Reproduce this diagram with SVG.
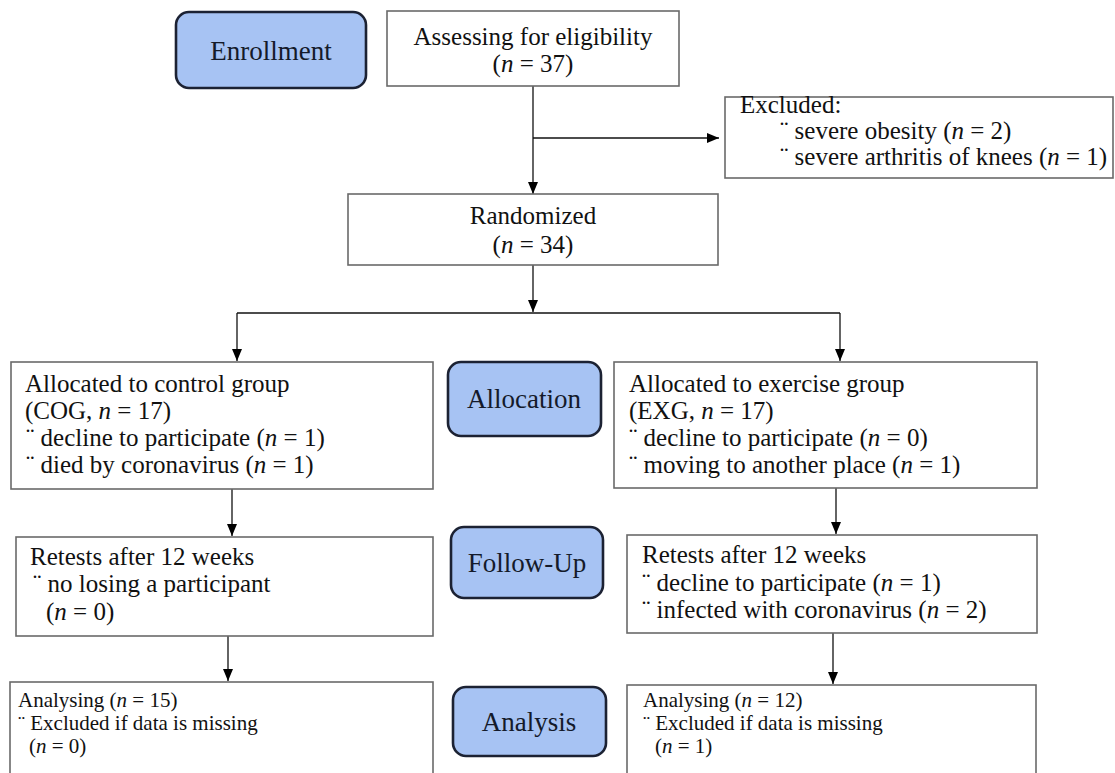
<svg xmlns="http://www.w3.org/2000/svg" width="1115" height="773" viewBox="0 0 1115 773">
<defs>
<marker id="ah" markerWidth="12" markerHeight="10" refX="12" refY="5" orient="auto" markerUnits="userSpaceOnUse">
<path d="M0,0 L12,5 L0,10 Z" fill="#000"/>
</marker>
<style>
.box{fill:#fff;stroke:#6a6a6a;stroke-width:1.6}
.stage{fill:#a7c3f3;stroke:#1c2233;stroke-width:2.6}
.t{font-family:"Liberation Serif",serif;font-size:25px;fill:#111}
.s{font-family:"Liberation Serif",serif;font-size:27px;fill:#141a2a;text-anchor:middle}
.m{font-family:"Liberation Serif",serif;font-size:21px;fill:#111}
.c{text-anchor:middle}
.i{font-style:italic}
.ln{fill:none;stroke:#111;stroke-width:1.3}
</style>
</defs>
<rect width="1115" height="773" fill="#fff"/>

<g id="connectors">
<line class="ln" x1="533" y1="86" x2="533" y2="194" marker-end="url(#ah)"/>
<line class="ln" x1="533" y1="138" x2="719" y2="138" marker-end="url(#ah)"/>
<line class="ln" x1="533" y1="265" x2="533" y2="312" marker-end="url(#ah)"/>
<line class="ln" x1="237" y1="313" x2="840" y2="313"/>
<line class="ln" x1="237" y1="313" x2="237" y2="361" marker-end="url(#ah)"/>
<line class="ln" x1="840" y1="313" x2="840" y2="361" marker-end="url(#ah)"/>
<line class="ln" x1="232" y1="489" x2="232" y2="536" marker-end="url(#ah)"/>
<line class="ln" x1="836" y1="488" x2="836" y2="534" marker-end="url(#ah)"/>
<line class="ln" x1="228" y1="636" x2="228" y2="681" marker-end="url(#ah)"/>
<line class="ln" x1="833" y1="633" x2="833" y2="684" marker-end="url(#ah)"/>
</g>

<g id="enrollment">
<rect class="stage" x="176" y="12" width="190" height="76" rx="13"/>
<text class="s" font-family="Liberation Serif, serif" x="271" y="60">Enrollment</text>
</g>

<g id="assessing">
<rect class="box" x="387" y="11" width="292" height="75"/>
<text class="t c" x="533" y="45">Assessing for eligibility</text>
<text class="t c" x="533" y="72">(<tspan class="i">n</tspan> = 37)</text>
</g>

<g id="excluded">
<rect class="box" x="725" y="97" width="388" height="81"/>
<text class="t" x="740" y="113">Excluded:</text>
<text class="t" x="780" y="139">¨ severe obesity (<tspan class="i">n</tspan> = 2)</text>
<text class="t" x="780" y="165">¨ severe arthritis of knees (<tspan class="i">n</tspan> = 1)</text>
</g>

<g id="randomized">
<rect class="box" x="348" y="194" width="370" height="71"/>
<text class="t c" x="533" y="224">Randomized</text>
<text class="t c" x="533" y="253">(<tspan class="i">n</tspan> = 34)</text>
</g>

<g id="alloc-control">
<rect class="box" x="11" y="362" width="422" height="127"/>
<text class="t" x="25" y="392">Allocated to control group</text>
<text class="t" x="25" y="419">(COG, <tspan class="i">n</tspan> = 17)</text>
<text class="t" x="26" y="446">¨ decline to participate (<tspan class="i">n</tspan> = 1)</text>
<text class="t" x="26" y="473">¨ died by coronavirus (<tspan class="i">n</tspan> = 1)</text>
</g>

<g id="allocation">
<rect class="stage" x="448" y="362" width="153" height="74" rx="13"/>
<text class="s" font-family="Liberation Serif, serif" x="524" y="408">Allocation</text>
</g>

<g id="alloc-exercise">
<rect class="box" x="614" y="362" width="423" height="126"/>
<text class="t" x="629" y="392">Allocated to exercise group</text>
<text class="t" x="629" y="419">(EXG, <tspan class="i">n</tspan> = 17)</text>
<text class="t" x="629" y="446">¨ decline to participate (<tspan class="i">n</tspan> = 0)</text>
<text class="t" x="629" y="473">¨ moving to another place (<tspan class="i">n</tspan> = 1)</text>
</g>

<g id="retest-control">
<rect class="box" x="16" y="537" width="417" height="99"/>
<text class="t" x="30" y="565">Retests after 12 weeks</text>
<text class="t" x="33" y="592">¨ no losing a participant</text>
<text class="t" x="46" y="620">(<tspan class="i">n</tspan> = 0)</text>
</g>

<g id="followup">
<rect class="stage" x="451" y="527" width="152" height="71" rx="13"/>
<text class="s" font-family="Liberation Serif, serif" x="527" y="572">Follow-Up</text>
</g>

<g id="retest-exercise">
<rect class="box" x="627" y="535" width="410" height="98"/>
<text class="t" x="642" y="563">Retests after 12 weeks</text>
<text class="t" x="642" y="591">¨ decline to participate (<tspan class="i">n</tspan> = 1)</text>
<text class="t" x="642" y="618">¨ infected with coronavirus (<tspan class="i">n</tspan> = 2)</text>
</g>

<g id="analysing-control">
<rect class="box" x="10" y="682" width="423" height="100"/>
<text class="m" x="18" y="707">Analysing (<tspan class="i">n</tspan> = 15)</text>
<text class="m" x="18" y="730">¨ Excluded if data is missing</text>
<text class="m" x="29" y="753">(<tspan class="i">n</tspan> = 0)</text>
</g>

<g id="analysis">
<rect class="stage" x="453" y="687" width="153" height="69" rx="13"/>
<text class="s" font-family="Liberation Serif, serif" x="529" y="731">Analysis</text>
</g>

<g id="analysing-exercise">
<rect class="box" x="627" y="685" width="409" height="100"/>
<text class="m" x="643" y="707">Analysing (<tspan class="i">n</tspan> = 12)</text>
<text class="m" x="643" y="730">¨ Excluded if data is missing</text>
<text class="m" x="655" y="753">(<tspan class="i">n</tspan> = 1)</text>
</g>
</svg>
